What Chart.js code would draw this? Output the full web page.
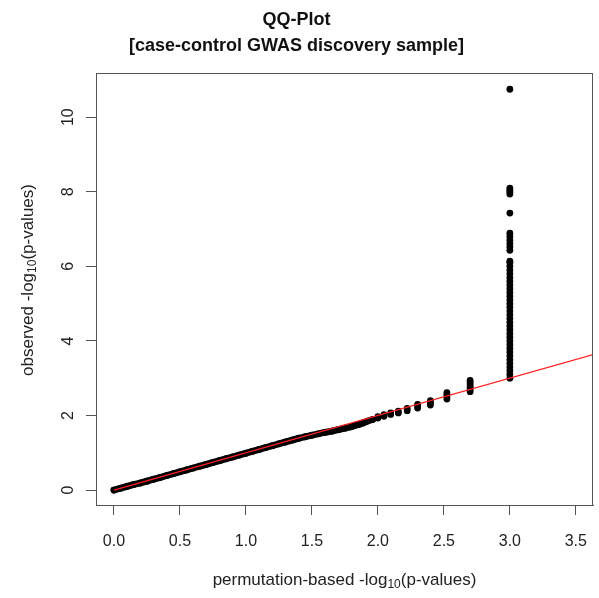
<!DOCTYPE html>
<html lang="en">
<head>
<meta charset="UTF-8">
<title>QQ-Plot</title>
<script src="https://cdn.jsdelivr.net/npm/chart.js"></script>
<style>
* { margin: 0; padding: 0; box-sizing: border-box; }
body { background: #fff; }
#wrap { width: 599px; height: 598px; }
</style>
</head>
<body>
<div id="wrap"><canvas id="chart"></canvas></div>
<script>
// expected (permutation-based) vs observed -log10(p), dense part near the diagonal
const diagX = [0.00,0.05,0.10,0.15,0.20,0.25,0.30,0.35,0.40,0.45,0.50,0.55,0.60,0.65,0.70,0.75,0.80,0.85,0.90,0.95,
               1.00,1.05,1.10,1.15,1.20,1.25,1.30,1.35,1.40,1.45,1.50,1.55,1.60,1.65,1.70,1.75,1.80,1.824,1.854,1.886,1.921,1.959];
const diagY = [0.00,0.05,0.10,0.15,0.19,0.24,0.29,0.34,0.39,0.44,0.49,0.54,0.59,0.64,0.69,0.74,0.79,0.84,0.89,0.94,
               0.99,1.04,1.09,1.14,1.19,1.24,1.29,1.34,1.39,1.43,1.47,1.51,1.55,1.58,1.62,1.66,1.70,1.73,1.76,1.80,1.85,1.89];

// discrete permutation levels (k/1000) and the observed values stacked on them
const tailX = [2.000,2.000,2.046,2.046,2.097,2.097,2.155,2.155,2.222,2.222,2.301,2.301,2.301,
               2.398,2.398,2.398,2.523,2.523,2.523,2.523,2.699,2.699,2.699,2.699,2.699,2.699];
const tailY = [1.93,1.97,1.98,2.02,2.03,2.07,2.07,2.12,2.13,2.19,2.20,2.26,2.30,
               2.28,2.34,2.40,2.44,2.50,2.56,2.61,2.64,2.70,2.76,2.82,2.88,2.94];

// the column at the permutation floor (1/1000)
const topX = 3.0;
const topY = [3.0,3.1,3.2,3.3,3.4,3.5,3.6,3.7,3.8,3.9,4.0,4.1,4.2,4.3,4.4,4.5,4.6,4.7,4.8,4.9,
              5.0,5.1,5.2,5.3,5.4,5.5,5.6,5.7,5.8,5.9,6.0,6.1,6.14,
              6.43,6.52,6.61,6.70,6.80,6.89,7.43,7.94,8.00,8.05,8.10,10.75];

// reference line y = x
const refX = [0.0, 4.0];
const refY = [0.0, 4.0];

const xTicks = [0.0,0.5,1.0,1.5,2.0,2.5,3.0,3.5];
const yTicks = [0,2,4,6,8,10];

const FONT = "'Liberation Sans', Arial, sans-serif";

function pts(xs, ys) {
    return xs.map((x, i) => ({ x: x, y: ys[i] }));
}

// draw "before" + subscript + "after" centred at (0,0) of current transform
function subText(ctx, before, sub, after, size) {
    const small = Math.round(size * 0.72);
    ctx.font = size + "px " + FONT;
    const w1 = ctx.measureText(before).width;
    const w3 = ctx.measureText(after).width;
    ctx.font = small + "px " + FONT;
    const w2 = ctx.measureText(sub).width;
    let x = -(w1 + w2 + w3) / 2;
    ctx.textAlign = "left";
    ctx.textBaseline = "middle";
    ctx.font = size + "px " + FONT;
    ctx.fillText(before, x, 0);
    x += w1;
    ctx.font = small + "px " + FONT;
    ctx.fillText(sub, x, 5);
    x += w2;
    ctx.font = size + "px " + FONT;
    ctx.fillText(after, x, 0);
}

const decor = {
    id: 'decor',
    afterDraw(chart) {
        const ctx = chart.ctx;
        const a = chart.chartArea;
        const ys = chart.scales.y;
        ctx.save();
        // plot box
        ctx.strokeStyle = '#555';
        ctx.lineWidth = 1;
        ctx.strokeRect(Math.round(a.left) + 0.5, Math.round(a.top) + 0.5,
                       Math.round(a.right - a.left) - 1, Math.round(a.bottom - a.top));
        // rotated y tick labels (R style)
        ctx.fillStyle = '#222';
        ctx.font = "16px " + FONT;
        ctx.textAlign = 'center';
        ctx.textBaseline = 'middle';
        yTicks.forEach(v => {
            ctx.save();
            ctx.translate(69, ys.getPixelForValue(v));
            ctx.rotate(-Math.PI / 2);
            ctx.fillText(String(v), 0, 0);
            ctx.restore();
        });
        // axis titles
        ctx.save();
        ctx.translate((a.left + a.right) / 2, 580);
        subText(ctx, 'permutation-based -log', '10', '(p-values)', 17);
        ctx.restore();
        ctx.save();
        ctx.translate(28, 280);
        ctx.rotate(-Math.PI / 2);
        subText(ctx, 'observed -log', '10', '(p-values)', 17);
        ctx.restore();
        ctx.restore();
    }
};

new Chart(document.getElementById('chart'), {
    type: 'scatter',
    data: {
        datasets: [
            {
                label: 'y = x',
                data: pts(refX, refY),
                showLine: true,
                clip: 0,
                borderColor: '#ff2020',
                borderWidth: 1.2,
                pointRadius: 0
            },
            {
                label: 'dense',
                data: pts(diagX, diagY),
                showLine: true,
                borderColor: '#000',
                borderWidth: 6.8,
                borderCapStyle: 'round',
                backgroundColor: '#000',
                pointRadius: 3.4,
                pointBorderWidth: 0
            },
            {
                label: 'tail',
                data: pts(tailX, tailY),
                backgroundColor: '#000',
                pointRadius: 3.4,
                pointBorderWidth: 0
            },
            {
                label: 'floor',
                data: topY.map(v => ({ x: topX, y: v })),
                backgroundColor: '#000',
                pointRadius: 3.4,
                pointBorderWidth: 0
            }
        ]
    },
    options: {
        responsive: true,
        maintainAspectRatio: false,
        animation: false,
        layout: { padding: { left: 0, right: 6, top: 0, bottom: 0 } },
        plugins: {
            legend: { display: false },
            tooltip: { enabled: false },
            title: {
                display: true,
                text: ['QQ-Plot', '[case-control GWAS discovery sample]'],
                color: '#111',
                font: { family: FONT, size: 18, weight: 'bold', lineHeight: 1.45 },
                padding: { top: 7, bottom: 14 }
            }
        },
        scales: {
            x: {
                type: 'linear',
                min: -0.136,
                max: 3.63,
                afterBuildTicks: s => { s.ticks = xTicks.map(v => ({ value: v })); },
                afterFit: s => { s.height = 93; s.paddingLeft = 0; s.paddingRight = 0; },
                ticks: {
                    includeBounds: false,
                    color: '#222',
                    font: { family: FONT, size: 16 },
                    padding: 17,
                    maxRotation: 0,
                    callback: v => Number(v).toFixed(1)
                },
                grid: { drawOnChartArea: false, tickLength: 10, color: '#555' },
                border: { color: '#555' }
            },
            y: {
                type: 'linear',
                min: -0.40,
                max: 11.18,
                afterBuildTicks: s => { s.ticks = yTicks.map(v => ({ value: v })); },
                afterFit: s => { s.width = 96; s.paddingTop = 0; s.paddingBottom = 0; },
                ticks: { display: false },
                grid: { drawOnChartArea: false, tickLength: 10, color: '#555' },
                border: { color: '#555' }
            }
        }
    },
    plugins: [decor]
});
</script>
</body>
</html>
